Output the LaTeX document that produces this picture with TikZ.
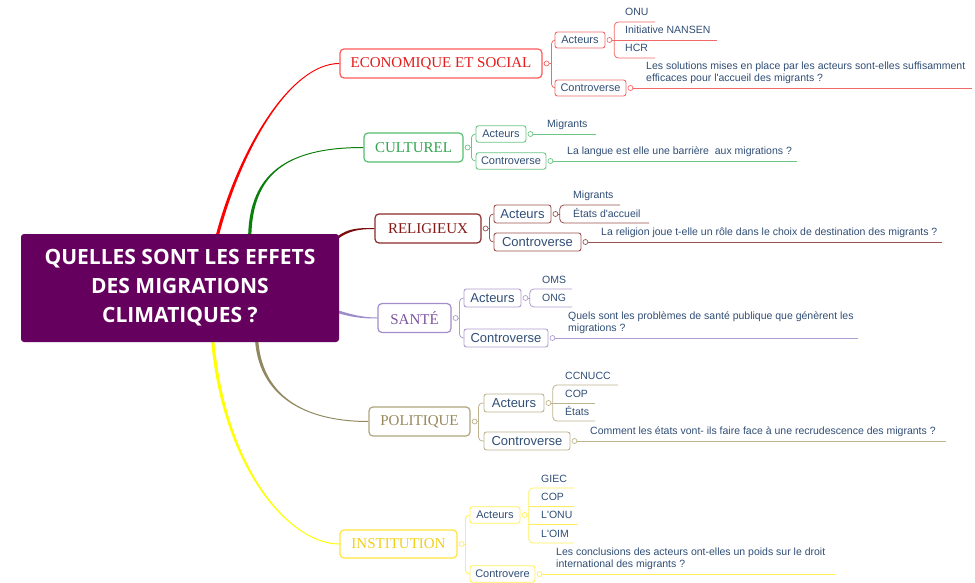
\documentclass[tikz,border=0pt]{standalone}
\usepackage{fontspec}
\setmainfont{Liberation Serif}
\newfontfamily\labelfont{Liberation Sans}
\newfontfamily\titlefont{Open Sans}
\usetikzlibrary{calc,backgrounds}

\definecolor{hubfill}{RGB}{102,0,94}
\definecolor{subtext}{RGB}{48,78,118}
\definecolor{ecoCurve}{HTML}{FF0000}\definecolor{ecoBox}{HTML}{FF5A5A}\definecolor{ecoText}{HTML}{E41B1B}\definecolor{ecoLine}{HTML}{F06A6A}
\definecolor{cultCurve}{HTML}{0B7F0B}\definecolor{cultBox}{HTML}{55C070}\definecolor{cultText}{HTML}{2FA64F}\definecolor{cultLine}{HTML}{6CC585}
\definecolor{relCurve}{HTML}{7B0C0C}\definecolor{relBox}{HTML}{8E2B2B}\definecolor{relText}{HTML}{861818}\definecolor{relLine}{HTML}{9C5252}
\definecolor{sanCurve}{HTML}{9D8CCC}\definecolor{sanBox}{HTML}{A58CCA}\definecolor{sanText}{HTML}{7D539F}\definecolor{sanLine}{HTML}{AE9ED0}
\definecolor{polCurve}{HTML}{918760}\definecolor{polBox}{HTML}{AFA57E}\definecolor{polText}{HTML}{98875A}\definecolor{polLine}{HTML}{BDB48F}
\definecolor{instCurve}{HTML}{FFFF00}\definecolor{instBox}{HTML}{FFE53B}\definecolor{instText}{HTML}{F2CF1A}\definecolor{instLine}{HTML}{FFF05A}

% tapered main branch: colour, start, control 1, control 2, end, half-width at start, half-width at end
\newcommand\taper[7]{\fill[#1] ($#2+#6$) .. controls ($#3+#6$) and ($#4+#7$) .. ($#5+#7$) -- ($#5-#7$) .. controls ($#4-#7$) and ($#3-#6$) .. ($#2-#6$) -- cycle;}

\begin{document}
\begin{tikzpicture}[x=1pt,y=-1pt,
  hub/.style={fill=hubfill, rounded corners=3pt, minimum width=318pt, minimum height=108pt, inner sep=0pt, text=white, align=center, font=\titlefont\bfseries\fontsize{21pt}{29pt}\selectfont},
  branch/.style={draw, fill=white, line width=1.2pt, rounded corners=4pt, minimum height=29pt, inner sep=0pt, font=\fontsize{15pt}{18pt}\selectfont},
  subbox/.style={draw, fill=white, line width=0.9pt, rounded corners=2.5pt, inner sep=0pt, text=subtext, font=\labelfont\fontsize{11pt}{13pt}\selectfont},
  subbig/.style={subbox, font=\labelfont\fontsize{13pt}{15pt}\selectfont},
  knob/.style={circle, draw, fill=white, line width=0.7pt, minimum size=5pt, inner sep=0pt},
  link/.style={line width=0.8pt},
  leaf/.style={inner sep=0pt, text=subtext, font=\labelfont\fontsize{10.5pt}{12pt}\selectfont, anchor=base west},
  question/.style={leaf, align=left, anchor=south west}
]
\useasboundingbox (0,0) rectangle (975,583);

% central topic
\node[hub] (hub) at (180,288) {QUELLES SONT LES EFFETS\\DES MIGRATIONS\\CLIMATIQUES ?};
\coordinate (r0) at ($(hub.north west)+(197,0)$);
\coordinate (g0) at ($(hub.north west)+(229,0)$);
\coordinate (d0) at ($(hub.north east)+(-3,5)$);
\coordinate (p0) at ($(hub.south east)+(-3,-31)$);
\coordinate (o0) at ($(hub.south west)+(236,0)$);
\coordinate (y0) at ($(hub.south west)+(192,0)$);

% ECONOMIQUE ET SOCIAL
\node[branch, draw=ecoBox, text=ecoText, minimum width=202pt] (eco) at (441,63.5) {ECONOMIQUE ET SOCIAL};
\node[knob, draw=ecoLine] (ecoK) at ($(eco.east)+(4,0)$) {};
\coordinate (ecoJ) at ($(ecoK.east)+(2,0)$);
\node[subbox, draw=ecoLine, minimum width=50pt, minimum height=16pt] (ecoA) at (580,40) {Acteurs};
\node[subbox, draw=ecoLine, minimum width=71pt, minimum height=16pt] (ecoC) at (590.5,88) {Controverse};
\node[knob, draw=ecoLine] (ecoAK) at ($(ecoA.east)+(4,0)$) {};
\coordinate (ecoAJ) at ($(ecoAK.east)+(2,0)$);
\node[knob, draw=ecoLine] (ecoCK) at ($(ecoC.east)+(4,0)$) {};
\node[leaf] (onu) at (625,16) {ONU};
\node[leaf] (nansen) at (625,34) {Initiative NANSEN};
\node[leaf] (hcr) at (625,52) {HCR};
\coordinate (onuE) at (655,22);
\coordinate (nansenE) at (717,40);
\coordinate (hcrE) at (655,58);
\node[question] (ecoQ) at (646,84.2) {Les solutions mises en place par les acteurs sont-elles suffisamment\\efficaces pour l'accueil des migrants ?};
\coordinate (ecoQE) at (972,88);

% CULTUREL
\node[branch, draw=cultBox, text=cultText, minimum width=99pt] (cult) at (413.5,147.5) {CULTUREL};
\node[knob, draw=cultLine] (cultK) at ($(cult.east)+(4,0)$) {};
\coordinate (cultJ) at ($(cultK.east)+(1,0)$);
\node[subbox, draw=cultLine, minimum width=50pt, minimum height=16.5pt] (cultA) at (501,134) {Acteurs};
\node[subbox, draw=cultLine, minimum width=70pt, minimum height=16.5pt] (cultC) at (511,161) {Controverse};
\node[knob, draw=cultLine] (cultAK) at ($(cultA.east)+(4,0)$) {};
\node[knob, draw=cultLine] (cultCK) at ($(cultC.east)+(4,0)$) {};
\node[leaf] (cultM) at (547,128) {Migrants};
\coordinate (cultME) at (596,134);
\node[question] (cultQ) at (567,157.2) {La langue est elle une barrière\ \ aux migrations ?};
\coordinate (cultQE) at (797,161);

% RELIGIEUX
\node[branch, draw=relBox, text=relText, minimum width=106pt] (rel) at (428,228.5) {RELIGIEUX};
\node[knob, draw=relLine] (relK) at ($(rel.east)+(4,0)$) {};
\coordinate (relJ) at ($(relK.east)+(1,0)$);
\node[subbig, draw=relLine, minimum width=57pt, minimum height=18pt] (relA) at (522.5,214) {Acteurs};
\node[subbig, draw=relLine, minimum width=87pt, minimum height=18pt] (relC) at (537.5,242) {Controverse};
\node[knob, draw=relLine] (relAK) at ($(relA.east)+(4,0)$) {};
\coordinate (relAJ) at ($(relAK.east)+(1.5,0)$);
\node[knob, draw=relLine] (relCK) at ($(relC.east)+(4,0)$) {};
\node[leaf] (relM) at (573,199) {Migrants};
\node[leaf] (relE) at (573,217) {États d'accueil};
\coordinate (relME) at (620,205);
\coordinate (relEE) at (649,223);
\node[question] (relQ) at (601,238.2) {La religion joue t-elle un rôle dans le choix de destination des migrants ?};
\coordinate (relQE) at (942,242);

% SANTÉ
\node[branch, draw=sanBox, text=sanText, minimum width=73pt] (san) at (414.5,318) {SANTÉ};
\node[knob, draw=sanLine] (sanK) at ($(san.east)+(4,0)$) {};
\coordinate (sanJ) at ($(sanK.east)+(1,0)$);
\node[subbig, draw=sanLine, minimum width=57pt, minimum height=18pt] (sanA) at (492.5,298) {Acteurs};
\node[subbig, draw=sanLine, minimum width=84pt, minimum height=18pt] (sanC) at (506,338) {Controverse};
\node[knob, draw=sanLine] (sanAK) at ($(sanA.east)+(4,0)$) {};
\coordinate (sanAJ) at ($(sanAK.east)+(1.5,0)$);
\node[knob, draw=sanLine] (sanCK) at ($(sanC.east)+(4,0)$) {};
\node[leaf] (oms) at (542,283) {OMS};
\node[leaf] (ong) at (542,301) {ONG};
\coordinate (omsE) at (572,289);
\coordinate (ongE) at (572,307);
\node[question] (sanQ) at (568,334.2) {Quels sont les problèmes de santé publique que génèrent les\\migrations ?};
\coordinate (sanQE) at (858,338);

% POLITIQUE
\node[branch, draw=polBox, text=polText, minimum width=101pt] (pol) at (419.5,421.5) {POLITIQUE};
\node[knob, draw=polLine] (polK) at ($(pol.east)+(4,0)$) {};
\coordinate (polJ) at ($(polK.east)+(1,0)$);
\node[subbig, draw=polLine, minimum width=60pt, minimum height=18pt] (polA) at (514,403) {Acteurs};
\node[subbig, draw=polLine, minimum width=86pt, minimum height=18pt] (polC) at (527,441) {Controverse};
\node[knob, draw=polLine] (polAK) at ($(polA.east)+(4,0)$) {};
\coordinate (polAJ) at ($(polAK.east)+(1.5,0)$);
\node[knob, draw=polLine] (polCK) at ($(polC.east)+(4,0)$) {};
\node[leaf] (ccnucc) at (565,379) {CCNUCC};
\node[leaf] (polcop) at (565,397) {COP};
\node[leaf] (etats) at (565,415) {États};
\coordinate (ccnuccE) at (618,385);
\coordinate (polcopE) at (595,403);
\coordinate (etatsE) at (595,421);
\node[question] (polQ) at (590,437.2) {Comment les états vont- ils faire face à une recrudescence des migrants ?};
\coordinate (polQE) at (946,441);

% INSTITUTION
\node[branch, draw=instBox, text=instText, minimum width=117pt, minimum height=28pt] (inst) at (398.5,544) {INSTITUTION};
\node[knob, draw=instLine] (instK) at ($(inst.east)+(4,0)$) {};
\coordinate (instJ) at ($(instK.east)+(1,0)$);
\node[subbox, draw=instLine, minimum width=50pt, minimum height=16.5pt] (instA) at (495,515) {Acteurs};
\node[subbox, draw=instLine, minimum width=65pt, minimum height=16.5pt] (instC) at (502.5,574) {Controvere};
\node[knob, draw=instLine] (instAK) at ($(instA.east)+(4,0)$) {};
\coordinate (instAJ) at ($(instAK.east)+(1.5,0)$);
\node[knob, draw=instLine] (instCK) at ($(instC.east)+(4,0)$) {};
\node[leaf] (giec) at (541,482) {GIEC};
\node[leaf] (instcop) at (541,500.3) {COP};
\node[leaf] (lonu) at (541,518.7) {L'ONU};
\node[leaf] (loim) at (541,537) {L'OIM};
\coordinate (giecE) at (574,488);
\coordinate (instcopE) at (574,506.3);
\coordinate (lonuE) at (578,524.7);
\coordinate (loimE) at (574,543);
\node[question] (instQ) at (556,570.2) {Les conclusions des acteurs ont-elles un poids sur le droit\\international des migrants ?};
\coordinate (instQE) at (835,574);

\begin{scope}[on background layer]
  \fill[white] (0,0) rectangle (975,583);
  % main branches
  \taper{ecoCurve}{(r0)}{(240,150)}{(290,63.5)}{(eco.west)}{(1.6,0)}{(0,0.5)}
  \taper{cultCurve}{(g0)}{(252,175)}{(285,147.5)}{(cult.west)}{(1.6,0)}{(0,0.5)}
  \taper{relCurve}{(d0)}{(348,229)}{(360,228.5)}{(rel.west)}{(0,1.4)}{(0,0.5)}
  \taper{sanCurve}{(p0)}{(352,316)}{(362,318)}{(san.west)}{(0,1.4)}{(0,0.5)}
  \taper{polCurve}{(o0)}{(262,400)}{(310,421.5)}{(pol.west)}{(1.6,0)}{(0,-0.5)}
  \taper{instCurve}{(y0)}{(225,470)}{(290,544)}{(inst.west)}{(1.6,0)}{(0,-0.5)}

  % ECONOMIQUE ET SOCIAL
  \begin{scope}[link, ecoLine]
    \draw (ecoK) -- (ecoJ);
    \draw[rounded corners=4pt] (ecoA.west) -| (ecoJ) |- (ecoC.west);
    \draw (ecoAK) -- (ecoAJ);
    \draw[rounded corners=4pt] (onuE) -| (ecoAJ) |- (hcrE);
    \draw (ecoAJ |- nansenE) -- (nansenE);
    \draw (ecoCK) -- (ecoQE);
  \end{scope}
  % CULTUREL
  \begin{scope}[link, cultLine]
    \draw (cultK) -- (cultJ);
    \draw[rounded corners=4pt] (cultA.west) -| (cultJ) |- (cultC.west);
    \draw (cultAK) -- (cultME);
    \draw (cultCK) -- (cultQE);
  \end{scope}
  % RELIGIEUX
  \begin{scope}[link, relLine]
    \draw (relK) -- (relJ);
    \draw[rounded corners=4pt] (relA.west) -| (relJ) |- (relC.west);
    \draw (relAK) -- (relAJ);
    \draw[rounded corners=4pt] (relME) -| (relAJ) |- (relEE);
    \draw (relCK) -- (relQE);
  \end{scope}
  % SANTÉ
  \begin{scope}[link, sanLine]
    \draw (sanK) -- (sanJ);
    \draw[rounded corners=4pt] (sanA.west) -| (sanJ) |- (sanC.west);
    \draw (sanAK) -- (sanAJ);
    \draw[rounded corners=4pt] (omsE) -| (sanAJ) |- (ongE);
    \draw (sanCK) -- (sanQE);
  \end{scope}
  % POLITIQUE
  \begin{scope}[link, polLine]
    \draw (polK) -- (polJ);
    \draw[rounded corners=4pt] (polA.west) -| (polJ) |- (polC.west);
    \draw (polAK) -- (polAJ);
    \draw[rounded corners=4pt] (ccnuccE) -| (polAJ) |- (etatsE);
    \draw (polAJ |- polcopE) -- (polcopE);
    \draw (polCK) -- (polQE);
  \end{scope}
  % INSTITUTION
  \begin{scope}[link, instLine]
    \draw (instK) -- (instJ);
    \draw[rounded corners=4pt] (instA.west) -| (instJ) |- (instC.west);
    \draw (instAK) -- (instAJ);
    \draw[rounded corners=4pt] (giecE) -| (instAJ) |- (loimE);
    \draw (instAJ |- instcopE) -- (instcopE);
    \draw (instAJ |- lonuE) -- (lonuE);
    \draw (instCK) -- (instQE);
  \end{scope}
\end{scope}
\end{tikzpicture}
\end{document}
